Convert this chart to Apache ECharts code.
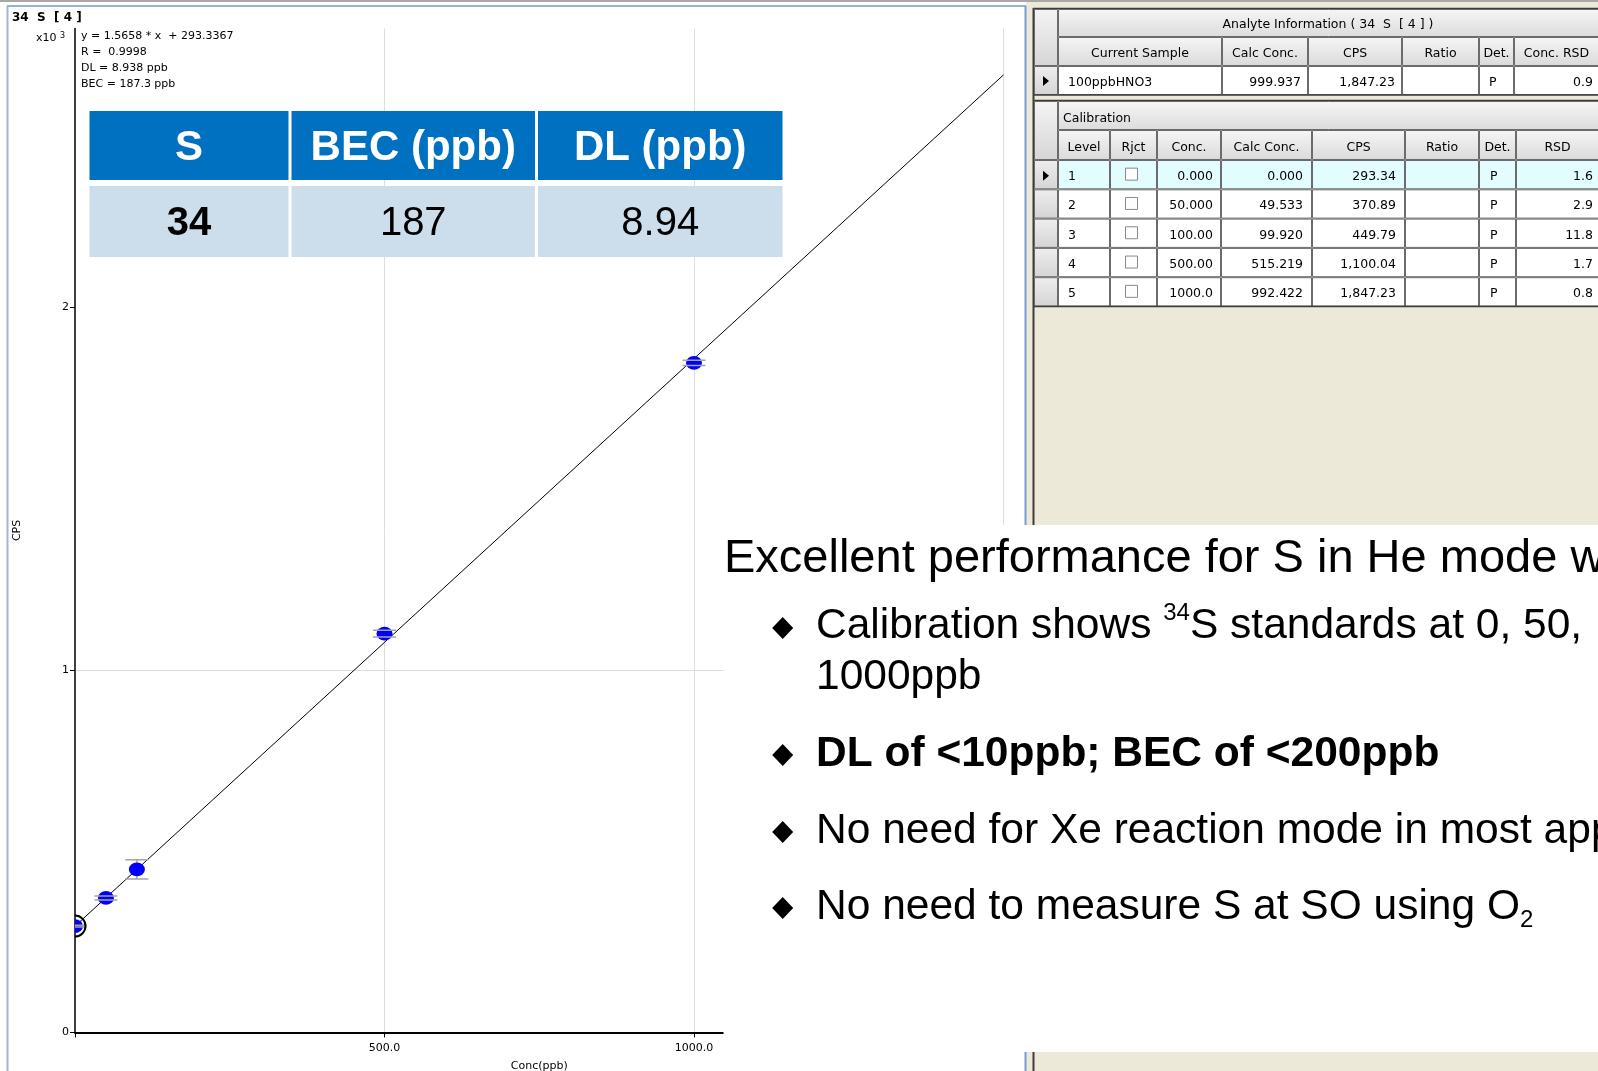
<!DOCTYPE html>
<html>
<head>
<meta charset="utf-8">
<title>34 S [4] calibration</title>
<script src="https://cdn.jsdelivr.net/npm/echarts@6/dist/echarts.min.js"></script>
<style>
    html, body {margin:0; padding:0; background:#fff;}
    #chart {width:1598px; height:1071px;}
</style>
</head>
<body>
<div id="chart"></div>
<script>
    // calibration standards, 34S in He mode
    var concs = [0, 50, 100, 500, 1000];
    var cpsValues = [293.34, 370.89, 449.79, 1100.04, 1847.23];
    var rsdValues = [1.6, 2.9, 11.8, 1.7, 0.8];
    var selectedLevel = 0;

    var slope = 1.5658, intercept = 293.3367;
    var rText = '0.9998', dlText = '8.938', becText = '187.3';

    var xLabelTicks = [500, 1000];
    var yLabelTicks = [0, 1000, 2000];

    // software tables on the right
    var analyteHeaders = ['Current Sample', 'Calc Conc.', 'CPS', 'Ratio', 'Det.', 'Conc. RSD'];
    var analyteRow = ['100ppbHNO3', '999.937', '1,847.23', '', 'P', '0.9'];
    var calHeaders = ['Level', 'Rjct', 'Conc.', 'Calc Conc.', 'CPS', 'Ratio', 'Det.', 'RSD'];
    var calLevel = ['1', '2', '3', '4', '5'];
    var calConc = ['0.000', '50.000', '100.00', '500.00', '1000.0'];
    var calCalc = ['0.000', '49.533', '99.920', '515.219', '992.422'];
    var calCps = ['293.34', '370.89', '449.79', '1,100.04', '1,847.23'];
    var calDet = ['P', 'P', 'P', 'P', 'P'];
    var calRsd = ['1.6', '2.9', '11.8', '1.7', '0.8'];

    // slide summary table
    var sumHeaders = ['S', 'BEC (ppb)', 'DL (ppb)'];
    var sumValues = ['34', '187', '8.94'];

    var W = 1598, H = 1071;
    var swFont = '12.5px "DejaVu Sans"';
    var chFont = '11px "DejaVu Sans"';
    var gridCol = '#6b6b6b';
    var els = [];

    function rect(x, y, w, h, fill, stroke, z) {
        els.push({type: 'rect', z: z, silent: true, shape: {x: x, y: y, width: w, height: h},
            style: {fill: fill, stroke: stroke || null, lineWidth: stroke ? 1 : 0}});
    }
    function seg(x1, y1, x2, y2, color, w, z) {
        els.push({type: 'line', z: z, silent: true, shape: {x1: x1, y1: y1, x2: x2, y2: y2},
            style: {stroke: color, lineWidth: w}});
    }
    function label(x, y, text, font, fill, align, z, extra) {
        var st = {text: text, font: font, fill: fill, align: align || 'left', verticalAlign: 'middle'};
        if (extra) Object.assign(st, extra);
        els.push({type: 'text', z: z, x: x, y: y, silent: true, style: st});
    }
    function grad(a, b) {
        return new echarts.graphic.LinearGradient(0, 0, 0, 1, [{offset: 0, color: a}, {offset: 1, color: b}]);
    }
    function arrow(cy, z) {
        els.push({type: 'polygon', z: z, silent: true, shape: {points: [[1043, cy - 5], [1049, cy], [1043, cy + 5]]},
            style: {fill: '#000'}});
    }
    function cellText(edges, i, y, text, align, pad) {
        var x = align === 'right' ? edges[i + 1] - pad : (align === 'left' ? edges[i] + pad : (edges[i] + edges[i + 1]) / 2);
        label(x, y + 2, text, swFont, '#000', align, 6);
    }

    // window frame
    rect(0, 0, W, 2, '#a8a8a8', null, 1);
    seg(7, 6, 1026, 6, '#8fb0e0', 2, 1);
    seg(7.5, 6, 7.5, H, '#a3b6d8', 2, 1);
    rect(1026, 2, W - 1026, H - 2, '#ECE9D8', null, 1);
    seg(1025.5, 6, 1025.5, H, '#7a9cd3', 2, 2);
    seg(1033.5, 8, 1033.5, H, '#3c3c3c', 2, 2);

    // analyte information table
    var aEdges = [1058, 1222, 1308, 1402, 1479, 1514, 1599];
    seg(1033, 8.5, W, 8.5, '#3c3c3c', 1.5, 3);
    rect(1034.5, 9.5, 23, 56, grad('#f4f4f4', '#d6d6d6'), gridCol, 3);
    rect(1058.5, 9.5, 540, 27, grad('#f6f6f6', '#dcdcdc'), gridCol, 3);
    label(1328, 25, 'Analyte Information ( 34  S  [ 4 ] )', swFont, '#000', 'center', 6);
    analyteHeaders.forEach(function (h, i) {
        rect(aEdges[i] + 0.5, 37.5, aEdges[i + 1] - aEdges[i] - 1, 28, grad('#f6f6f6', '#dadada'), gridCol, 3);
        cellText(aEdges, i, 52, h, 'center', 0);
    });
    rect(1034.5, 66.5, 23, 28, grad('#eeeeee', '#d4d4d4'), gridCol, 3);
    arrow(81, 6);
    var aAlign = ['left', 'right', 'right', 'right', 'left', 'right'];
    var aPad = [10, 7, 7, 7, 10, 6];
    analyteRow.forEach(function (v, i) {
        rect(aEdges[i] + 0.5, 66.5, aEdges[i + 1] - aEdges[i] - 1, 28, '#fff', gridCol, 3);
        cellText(aEdges, i, 81, v, aAlign[i], aPad[i]);
    });
    seg(1033, 95, W, 95, '#3c3c3c', 1.5, 3);

    // calibration table
    var cEdges = [1058, 1110, 1157, 1221, 1312, 1405, 1479, 1516, 1599];
    var rowTop = 160, rowH = 29.3;
    seg(1033, 100.5, W, 100.5, '#3c3c3c', 1.5, 3);
    rect(1034.5, 101.5, 23, 58, grad('#f4f4f4', '#d6d6d6'), gridCol, 3);
    rect(1058.5, 101.5, 540, 28, grad('#f6f6f6', '#dcdcdc'), gridCol, 3);
    label(1063, 118.5, 'Calibration', swFont, '#000', 'left', 6);
    calHeaders.forEach(function (h, i) {
        rect(cEdges[i] + 0.5, 130.5, cEdges[i + 1] - cEdges[i] - 1, 29, grad('#f6f6f6', '#dadada'), gridCol, 3);
        cellText(cEdges, i, 146, h, 'center', 0);
    });
    var cAlign = ['left', 'center', 'right', 'right', 'right', 'right', 'left', 'right'];
    var cPad = [10, 0, 8, 9, 9, 8, 11, 6];
    calLevel.forEach(function (lv, r) {
        var y0 = rowTop + r * rowH, cy = y0 + rowH / 2;
        var fill = r === selectedLevel ? '#e2fdfd' : '#fff';
        rect(1034.5, y0 + 0.5, 23, rowH - 1, grad('#eeeeee', '#d4d4d4'), gridCol, 3);
        if (r === selectedLevel) arrow(cy + 1, 6);
        var vals = [lv, '', calConc[r], calCalc[r], calCps[r], '', calDet[r], calRsd[r]];
        vals.forEach(function (v, i) {
            rect(cEdges[i] + 0.5, y0 + 0.5, cEdges[i + 1] - cEdges[i] - 1, rowH - 1, fill, gridCol, 3);
            if (v) cellText(cEdges, i, cy, v, cAlign[i], cPad[i]);
        });
        rect(1125.5, cy - 6.5, 12, 12, '#fdfdfd', '#8a8a8a', 6);
    });
    seg(1033, 306.5, W, 306.5, '#3c3c3c', 1.5, 3);

    // chart annotations
    label(12, 17.5, '34  S  [ 4 ]', 'bold 12px "DejaVu Sans"', '#000', 'left', 5);
    label(36, 38.5, '{a|x10 }{s|3}', chFont, '#000', 'left', 5, {
        rich: {a: {font: chFont, lineHeight: 14}, s: {font: '8px "DejaVu Sans"', lineHeight: 10, verticalAlign: 'top'}}
    });
    var eqLines = ['y = ' + slope.toFixed(4) + ' * x  + ' + intercept.toFixed(4), 'R =  ' + rText,
        'DL = ' + dlText + ' ppb', 'BEC = ' + becText + ' ppb'];
    eqLines.forEach(function (t, i) { label(81, 36.5 + i * 16, t, chFont, '#000', 'left', 5); });

    // slide overlay: summary table
    var sEdges = [89.5, 288.5, 291.5, 535, 538, 782.5];
    for (var c = 0; c < 3; c++) {
        var x0 = sEdges[c * 2], x1 = sEdges[c * 2 + 1];
        rect(x0, 111, x1 - x0, 69, '#0070C0', null, 100);
        rect(x0, 186, x1 - x0, 71, '#CCDDEB', null, 100);
        label((x0 + x1) / 2, 148.5, sumHeaders[c], 'bold 42px "Liberation Sans"', '#fff', 'center', 101);
        label((x0 + x1) / 2, 223.5, sumValues[c], (c === 0 ? 'bold ' : '') + '40px "Liberation Sans"', '#000', 'center', 101);
    }

    // slide overlay: text box
    var bigFont = '47px "Liberation Sans"', bulFont = '42.5px "Liberation Sans"';
    rect(723.5, 525, W - 723.5, 527, '#fff', null, 100);
    label(724, 559, 'Excellent performance for S in He mode w', bigFont, '#000', 'left', 101);
    var richNorm = {font: bulFont, lineHeight: 50, fill: '#000'};
    var bulletY = [628, 755, 832, 908];
    bulletY.forEach(function (cy) {
        els.push({type: 'polygon', z: 101, silent: true,
            shape: {points: [[782.7, cy - 11], [793.2, cy], [782.7, cy + 11], [772.2, cy]]}, style: {fill: '#000'}});
    });
    label(816, 626, '{n|Calibration shows }{s|34}{n|S standards at 0, 50,}', bulFont, '#000', 'left', 101, {
        rich: {n: richNorm, s: {font: '24px "Liberation Sans"', lineHeight: 30, verticalAlign: 'top', fill: '#000'}}
    });
    label(816, 677, '1000ppb', bulFont, '#000', 'left', 101);
    label(816, 754, 'DL of <10ppb; BEC of <200ppb', 'bold ' + bulFont, '#000', 'left', 101);
    label(816, 831, 'No need for Xe reaction mode in most applications', bulFont, '#000', 'left', 101);
    label(816, 907, '{n|No need to measure S at SO using O}{b|2}', bulFont, '#000', 'left', 101, {
        rich: {n: richNorm, b: {font: '24px "Liberation Sans"', lineHeight: 22, verticalAlign: 'bottom', fill: '#000'}}
    });

    var chart = echarts.init(document.getElementById('chart'));
    var points = concs.map(function (c, i) { return [c, cpsValues[i], rsdValues[i]]; });
    var xMax = 1500;

    chart.setOption({
        animation: false,
        backgroundColor: '#fff',
        grid: {left: 75, right: W - 1003.5, top: 28.5, bottom: H - 1032.4, containLabel: false, outerBoundsMode: 'none'},
        xAxis: {
            type: 'value', min: 0, max: xMax, interval: 500,
            name: 'Conc(ppb)', nameLocation: 'middle', nameGap: 28,
            nameTextStyle: {color: '#000', fontFamily: 'DejaVu Sans', fontSize: 11},
            axisLine: {show: true, onZero: false, lineStyle: {color: '#000', width: 2}},
            axisTick: {show: true, length: 5, lineStyle: {color: '#000'}},
            axisLabel: {color: '#000', fontFamily: 'DejaVu Sans', fontSize: 11, margin: 10,
                formatter: function (v) { return xLabelTicks.indexOf(v) >= 0 ? v.toFixed(1) : ''; }},
            splitLine: {show: true, showMinLine: false, lineStyle: {color: '#dedede', width: 1}}
        },
        yAxis: {
            type: 'value', min: 0, max: 2770, interval: 1000,
            name: 'CPS', nameLocation: 'middle', nameRotate: 90, nameGap: 52,
            nameTextStyle: {color: '#000', fontFamily: 'DejaVu Sans', fontSize: 11},
            axisLine: {show: true, onZero: false, lineStyle: {color: '#000', width: 1.5}},
            axisTick: {show: true, length: 5, customValues: yLabelTicks, lineStyle: {color: '#000'}},
            axisLabel: {color: '#000', fontFamily: 'DejaVu Sans', fontSize: 11, margin: 6,
                formatter: function (v) { return yLabelTicks.indexOf(v) >= 0 ? String(v / 1000) : ''; }},
            splitLine: {show: true, showMinLine: false, showMaxLine: false, lineStyle: {color: '#dedede', width: 1}}
        },
        graphic: {elements: els},
        series: [
            {
                type: 'line', silent: true, z: 2, showSymbol: false,
                data: [[0, intercept], [xMax, slope * xMax + intercept]],
                lineStyle: {color: '#000', width: 1}
            },
            {
                type: 'custom', z: 3, clip: true, silent: true,
                data: points,
                renderItem: function (params, api) {
                    var x = api.value(0), y = api.value(1), rsd = api.value(2);
                    var c = api.coord([x, y]);
                    var half = y * rsd / 200;
                    var top = api.coord([x, y + half])[1], bot = api.coord([x, y - half])[1];
                    var bar = {stroke: '#a4a4a4', lineWidth: 1.5};
                    var kids = [
                        {type: 'line', shape: {x1: c[0], y1: top, x2: c[0], y2: bot}, style: bar},
                        {type: 'circle', x: c[0], y: c[1], scaleY: 0.86, shape: {cx: 0, cy: 0, r: 8}, style: {fill: '#0000ff'}},
                        {type: 'line', shape: {x1: c[0] - 11.5, y1: top, x2: c[0] + 11.5, y2: top}, style: bar},
                        {type: 'line', shape: {x1: c[0] - 11.5, y1: bot, x2: c[0] + 11.5, y2: bot}, style: bar}
                    ];
                    if (params.dataIndex === selectedLevel) {
                        kids.push({type: 'circle', shape: {cx: c[0], cy: c[1], r: 10.5}, style: {fill: null, stroke: '#000', lineWidth: 2}});
                    }
                    return {type: 'group', children: kids};
                }
            }
        ]
    });
</script>
</body>
</html>
